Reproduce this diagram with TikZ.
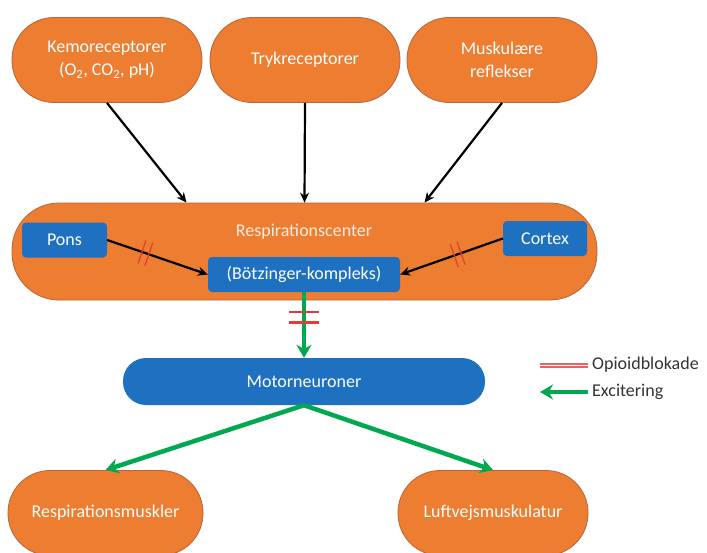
\documentclass[tikz,border=0pt]{standalone}
\usepackage{fontspec}
\setmainfont{Carlito}
\usetikzlibrary{arrows.meta}

\definecolor{boxorange}{RGB}{237,125,49}
\definecolor{boxedge}{RGB}{185,100,60}
\definecolor{boxblue}{RGB}{30,112,192}
\definecolor{excite}{RGB}{0,168,80}
\definecolor{opioid}{RGB}{225,60,55}

\begin{document}
\begin{tikzpicture}[x=1pt, y=-1pt,
  every node/.style={font=\fontsize{18}{23}\selectfont, text=white, align=center},
  orangebox/.style={draw=boxedge, line width=0.8pt, fill=boxorange, rounded corners=42pt,
    minimum width=190pt, minimum height=85pt, inner sep=0pt},
  bluebox/.style={fill=boxblue, rounded corners=4pt, minimum height=35pt, inner sep=0pt},
  signal/.style={-{Stealth[length=10pt, width=9pt]}, line width=2.2pt, black},
  excitation/.style={-{Stealth[length=13pt, width=15pt]}, line width=4.5pt, excite},
  blockmark/.style={minimum width=5pt, minimum height=22pt, inner sep=0pt},
  blockline/.style={opioid, line width=1.2pt},
  legendtext/.style={text=black!80, inner sep=0pt}]
  \useasboundingbox (0,0) rectangle (707,552);
  \clip (0,0) rectangle (707,552);

  % receptors
  \node[orangebox] (kemo) at (107,60) {Kemoreceptorer\\(O\textsubscript{2}, CO\textsubscript{2}, pH)};
  \node[orangebox] (tryk) at (305,60) {Trykreceptorer};
  \node[orangebox] (muskref) at (502,60) {Muskulære\\reflekser};

  % respiration center
  \node[orangebox, minimum width=585pt, minimum height=97pt, rounded corners=47pt] (center) at (304.5,251.5) {};
  \node[text=white!85!boxorange] (centerlabel) at (304,232) {Respirationscenter};
  \node[bluebox, minimum width=85pt] (pons) at (64.5,240) {Pons};
  \node[bluebox, minimum width=84pt] (cortex) at (545,238.5) {Cortex};
  \node[bluebox, minimum width=192pt] (boetz) at (304,274.5) {(Bötzinger-kompleks)};

  \node[bluebox, minimum width=362pt, minimum height=47pt, rounded corners=23pt] (motor) at (304,381.5) {Motorneuroner};

  % effectors
  \node[orangebox, minimum width=195pt] (respmusk) at (105.5,513) {Respirationsmuskler};
  \node[orangebox] (luftvej) at (493,513) {Luftvejsmuskulatur};

  % afferent input
  \draw[signal] (kemo.south) -- ([xshift=-118pt]center.north);
  \draw[signal] (tryk.south) -- (center.north);
  \draw[signal] (muskref.south) -- ([xshift=120pt]center.north);

  \draw[signal] (pons.east) -- node[blockmark, sloped, pos=0.38] (markpons) {} (boetz.west);
  \draw[signal] (cortex.west) -- node[blockmark, sloped, pos=0.44] (markcortex) {} (boetz.east);
  \draw[excitation] (boetz.south) -- node[blockmark, sloped, pos=0.38, minimum height=25pt, minimum width=6pt] (markmotor) {} (motor.north);

  \foreach \m in {markpons, markcortex}
    \draw[blockline] (\m.north west) -- (\m.south west) (\m.north east) -- (\m.south east);
  \draw[blockline, line width=2.4pt] (markmotor.north west) -- (markmotor.south west)
    (markmotor.north east) -- (markmotor.south east);

  % output
  \draw[excitation] (motor.south) -- (respmusk.north);
  \draw[excitation] (motor.south) -- (luftvej.north);

  % legend
  \node[legendtext, anchor=west] (opioidlabel) at (592,365) {Opioidblokade};
  \node[legendtext, anchor=west] (excitelabel) at (592,392) {Excitering};
  \draw[blockline, line width=2pt, opioid!80] ([xshift=-4pt, yshift=1.5pt]opioidlabel.west) -- ++(-48,0);
  \draw[blockline, line width=2pt, opioid!80] ([xshift=-4pt, yshift=-1.5pt]opioidlabel.west) -- ++(-48,0);
  \draw[excitation] ([xshift=-4pt]excitelabel.west) -- ++(-48,0);
\end{tikzpicture}
\end{document}
